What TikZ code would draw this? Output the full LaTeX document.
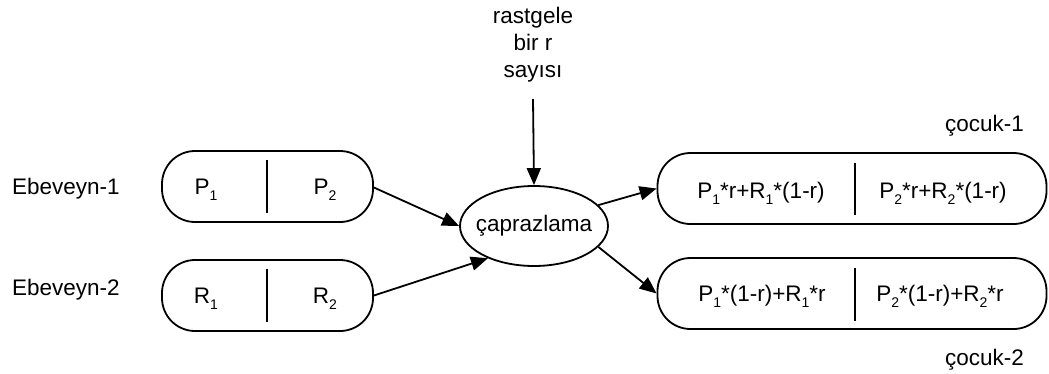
\documentclass[tikz,border=0pt]{standalone}
\usepackage{fontspec}
\setmainfont{Liberation Sans}
\usetikzlibrary{arrows.meta,shapes.geometric}
\newcommand\sbs[1]{\raisebox{-6pt}{\fontsize{14}{14}\selectfont #1}}
\begin{document}
\begin{tikzpicture}[x=1pt,y=-1pt,
  every node/.style={font=\fontsize{22.5}{27}\selectfont, inner sep=0pt},
  chrom/.style={draw, line width=1.8pt, rounded corners=33pt, minimum height=71pt},
  lbl/.style={anchor=center},
  conn/.style={line width=1.8pt, -{Triangle[length=17pt,width=14pt]}},
  divider/.style={line width=1.8pt}]
\useasboundingbox (0,0) rectangle (1049,373);

% parent chromosomes
\node[chrom, minimum width=211pt] (p) at (267.5,186.5) {};
\node[chrom, minimum width=211pt] (q) at (267.5,295.5) {};
\draw[divider] (267,160) -- (267,213);
\draw[divider] (267,269) -- (267,322);
\node[lbl] (p1) at (206,190) {P\sbs{1}};
\node[lbl] (p2) at (325,190) {P\sbs{2}};
\node[lbl] (r1) at (206,299) {R\sbs{1}};
\node[lbl] (r2) at (325,299) {R\sbs{2}};
\node[anchor=base west] (e1) at (12,194) {Ebeveyn-1};
\node[anchor=base west] (e2) at (12,295) {Ebeveyn-2};

% crossover operator
\node[draw, ellipse, line width=1.8pt, minimum width=148pt, minimum height=80pt] (x) at (534,226) {};
\node (xt) at (x.center) {çaprazlama};
\node[align=center] (r) at (533,45) {rastgele\\bir r\\sayısı};
\coordinate (rs) at (533,99);

% offspring chromosomes
\node[chrom, minimum width=389pt] (c) at (852,188.5) {};
\node[chrom, minimum width=389pt] (d) at (852,293.5) {};
\draw[divider] (855,163) -- (855,215);
\draw[divider] (855,268) -- (855,321);
\node[lbl] (c1) at (761,193) {P\sbs{1}*r+R\sbs{1}*(1-r)};
\node[lbl] (c2) at (943,193) {P\sbs{2}*r+R\sbs{2}*(1-r)};
\node[lbl] (d1) at (762,296) {P\sbs{1}*(1-r)+R\sbs{1}*r};
\node[lbl] (d2) at (940,296) {P\sbs{2}*(1-r)+R\sbs{2}*r};
\node[anchor=base east] (k1) at (1024,131) {çocuk-1};
\node[anchor=base east] (k2) at (1024,365) {çocuk-2};

% connectors
\draw[conn] (rs) -- (x.north);
\draw[conn] (p.east) ++(0,1) -- (x.west);
\draw[conn] (q.east) -- (x.215);
\draw[conn] (x.18) -- (c.west);
\draw[conn] (x.-18) -- (d.west);
\end{tikzpicture}
\end{document}
